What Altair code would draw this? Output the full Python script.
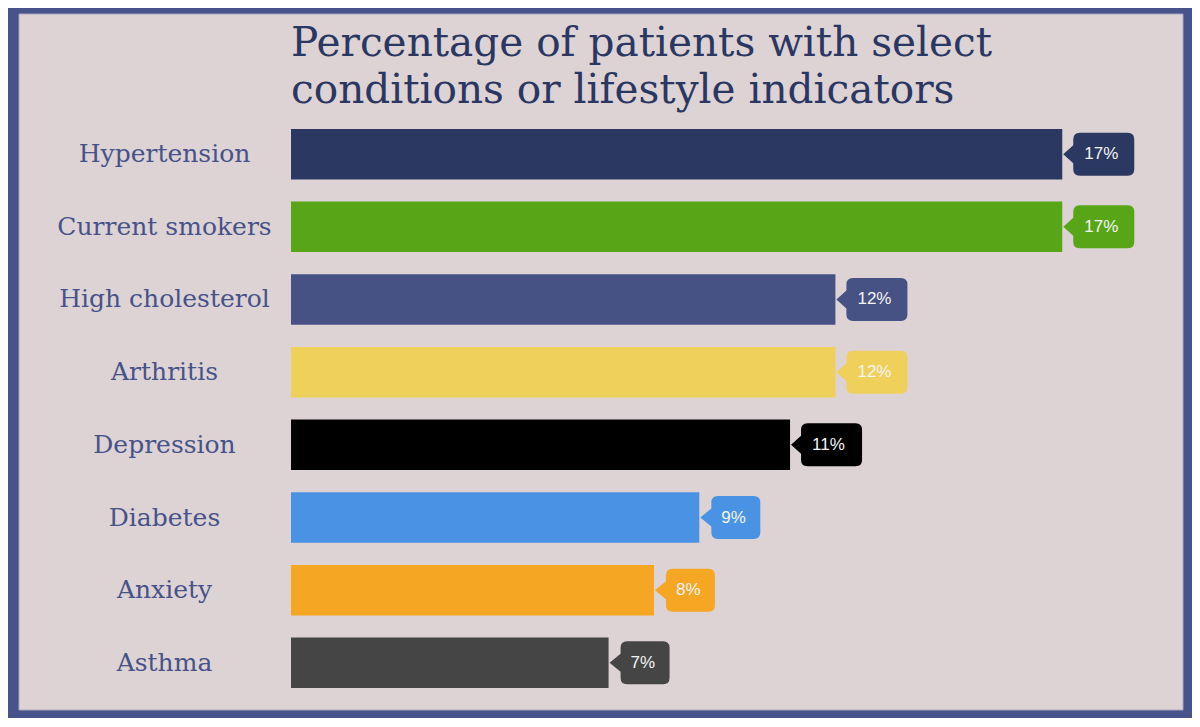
import altair as alt
import pandas as pd

categories = ["Hypertension", "Current smokers", "High cholesterol", "Arthritis",
              "Depression", "Diabetes", "Anxiety", "Asthma"]
values = [17, 17, 12, 12, 11, 9, 8, 7]
bar_colors = ["#2b3862", "#58a618", "#465184", "#efd05a",
              "#000000", "#4a92e3", "#f5a623", "#454545"]
title_lines = ["Percentage of patients with select", "conditions or lifestyle indicators"]

df = pd.DataFrame({"condition": categories, "value": values})
bg_df = pd.DataFrame({"k": [0]})

PLOT_W, PLOT_H = 862, 581

# callout shapes: pointer tip at (0,0), rounded box to the right (units of 30px)
callout_wide = ("M0,0 L0.333,-0.3 L0.333,-0.5 Q0.333,-0.717 0.55,-0.717 "
                "L2.15,-0.717 Q2.367,-0.717 2.367,-0.5 L2.367,0.5 "
                "Q2.367,0.717 2.15,0.717 L0.55,0.717 Q0.333,0.717 0.333,0.5 "
                "L0.333,0.3 Z")
callout_narrow = ("M0,0 L0.367,-0.3 L0.367,-0.5 Q0.367,-0.717 0.583,-0.717 "
                  "L1.783,-0.717 Q2.0,-0.717 2.0,-0.5 L2.0,0.5 "
                  "Q2.0,0.717 1.783,0.717 L0.583,0.717 Q0.367,0.717 0.367,0.5 "
                  "L0.367,0.3 Z")

y_enc = alt.Y("condition:N", sort=categories,
              scale=alt.Scale(paddingInner=0.305, paddingOuter=0.15),
              axis=alt.Axis(title=None, domain=False, ticks=False, grid=False,
                            labelFont="DejaVu Serif", labelFontSize=25,
                            labelColor="#47528a", labelAlign="center",
                            labelBaseline="middle", labelPadding=127,
                            labelLimit=400, labelOffset=0, zindex=1))
x_enc = alt.X("value:Q", scale=alt.Scale(domain=[0, 19], nice=False, zero=True), axis=None)
color_enc = alt.Color("condition:N", scale=alt.Scale(domain=categories, range=bar_colors),
                      legend=None)

panel = alt.Chart(bg_df).mark_rect(fill="#ddd3d4", stroke="#a9a6bd", strokeWidth=1).encode(
    x=alt.value(-272), x2=alt.value(892), y=alt.value(-104), y2=alt.value(592)
)

bars = alt.Chart(df).mark_bar().encode(y=y_enc, x=x_enc, color=color_enc)

callouts = alt.Chart(df).transform_calculate(
    digits="datum.value >= 10 ? 'two' : 'one'"
).mark_point(filled=True, size=3600, opacity=1, strokeWidth=0, xOffset=1).encode(
    y=alt.Y("condition:N", sort=categories), x="value:Q", color=color_enc,
    shape=alt.Shape("digits:N", scale=alt.Scale(domain=["two", "one"],
                                                range=[callout_wide, callout_narrow]),
                    legend=None)
)

labels = alt.Chart(df).transform_calculate(label="datum.value + '%'").mark_text(
    dx=22, dy=0, align="left", baseline="middle", font="Liberation Sans",
    fontSize=17, color="#f4f4f4"
).encode(y=alt.Y("condition:N", sort=categories), x="value:Q", text="label:N")

chart = alt.layer(panel, bars, callouts, labels).properties(
    width=PLOT_W, height=PLOT_H,
    autosize=alt.AutoSizeParams(type="none"),
    padding={"left": 283, "top": 110, "right": 39, "bottom": 19},
    background="#47538a",
    title=alt.TitleParams(text=title_lines, anchor="start", frame="group",
                          font="DejaVu Serif", fontSize=40.6, fontWeight="normal",
                          color="#2b3763", lineHeight=47, offset=-98),
).configure_view(stroke=None)

chart.save("out.html", embed_options={"renderer": "svg", "actions": False})
